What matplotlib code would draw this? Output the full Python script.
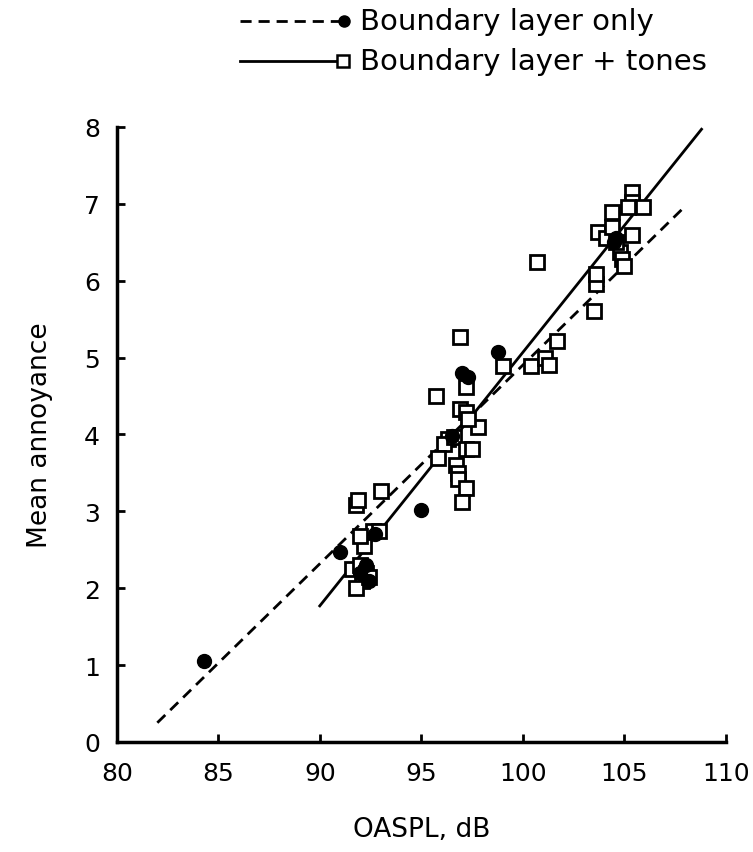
import matplotlib
matplotlib.use('Agg')
import matplotlib.pyplot as plt
from matplotlib.lines import Line2D

plt.rcParams['font.family'] = ['DejaVu Sans']

# Boundary layer + tones (open squares)
tones_x = [91.8, 91.9, 93.0, 92.6, 92.9, 92.2, 92.0, 91.6, 92.0, 92.3, 92.1, 91.8, 92.4,
           95.7, 96.9, 97.2, 96.9, 97.2, 97.8, 96.3, 96.1, 96.6, 97.2, 97.5, 95.8, 96.7,
           96.8, 96.8, 97.2, 97.0, 97.3,
           99.0, 100.4, 101.1, 101.3, 101.7, 100.7,
           103.5, 103.6, 103.6, 103.7, 104.1, 104.4, 104.4, 105.4, 104.8, 104.9, 105.0,
           105.4, 105.4, 105.2, 105.9, 104.6]
tones_y = [3.08, 3.15, 3.27, 2.75, 2.75, 2.55, 2.68, 2.25, 2.30, 2.20, 2.10, 2.00, 2.15,
           4.50, 5.27, 4.62, 4.33, 4.29, 4.10, 3.94, 3.88, 3.97, 3.81, 3.81, 3.70, 3.60,
           3.50, 3.42, 3.30, 3.12, 4.20,
           4.89, 4.89, 5.00, 4.90, 5.21, 6.24,
           5.60, 5.96, 6.09, 6.64, 6.55, 6.70, 6.90, 6.60, 6.37, 6.28, 6.19,
           7.15, 7.03, 6.96, 6.96, 6.50]

# Boundary layer only (filled circles)
bl_x = [84.3, 91.0, 95.0, 98.8, 97.0, 97.3, 92.0, 92.3, 92.4, 96.5, 104.5, 104.6, 92.7]
bl_y = [1.05, 2.47, 3.02, 5.07, 4.80, 4.75, 2.20, 2.30, 2.10, 3.98, 6.50, 6.55, 2.70]

# regression lines (end points)
fit_bl_x = [82.0, 108.0]
fit_bl_y = [0.25, 6.97]
fit_tones_x = [90.0, 108.8]
fit_tones_y = [1.77, 7.97]

xticks = [80, 85, 90, 95, 100, 105, 110]
yticks = [0, 1, 2, 3, 4, 5, 6, 7, 8]

fig = plt.figure(figsize=(7.53, 8.53), dpi=100)
ax = fig.add_axes([0.155, 0.129, 0.809, 0.721])

ax.plot(fit_bl_x, fit_bl_y, color='black', lw=2, linestyle=(0, (4, 2.5)))
ax.plot(fit_tones_x, fit_tones_y, color='black', lw=2)
ax.plot(tones_x, tones_y, linestyle='none', marker='s', markersize=10,
        markerfacecolor='white', markeredgecolor='black', markeredgewidth=2)
ax.plot(bl_x, bl_y, linestyle='none', marker='o', markersize=10,
        markerfacecolor='black', markeredgecolor='black')

ax.set_xlim(80, 110)
ax.set_ylim(0, 8)
ax.set_xticks(xticks)
ax.set_yticks(yticks)
ax.tick_params(direction='in', length=6, width=2, labelsize=18)
ax.tick_params(axis='x', pad=14)
ax.tick_params(axis='y', pad=12)
for s in ['top', 'right']:
    ax.spines[s].set_visible(False)
for s in ['left', 'bottom']:
    ax.spines[s].set_linewidth(2.5)

ax.set_xlabel('OASPL, dB', fontsize=19, labelpad=22)
ax.set_ylabel('Mean annoyance', fontsize=19, labelpad=22)

# legend drawn above the axes
W, H = 753, 853
def fx(p):
    return p / W
def fy(p):
    return 1 - p / H

fig.add_artist(Line2D([fx(240), fx(340)], [fy(22), fy(22)], color='black', lw=2,
                      linestyle=(0, (4, 2.5))))
fig.add_artist(Line2D([fx(344)], [fy(22)], marker='o', markersize=8,
                      color='black', linestyle='none'))
fig.text(fx(360), fy(22), 'Boundary layer only', fontsize=21, va='center', ha='left')

fig.add_artist(Line2D([fx(240), fx(338)], [fy(62), fy(62)], color='black', lw=2))
fig.add_artist(Line2D([fx(343)], [fy(62)], marker='s', markersize=8, linestyle='none',
                      markerfacecolor='white', markeredgecolor='black', markeredgewidth=1.8))
fig.text(fx(360), fy(62), 'Boundary layer + tones', fontsize=21, va='center', ha='left')

fig.savefig('out.png', dpi=100)
